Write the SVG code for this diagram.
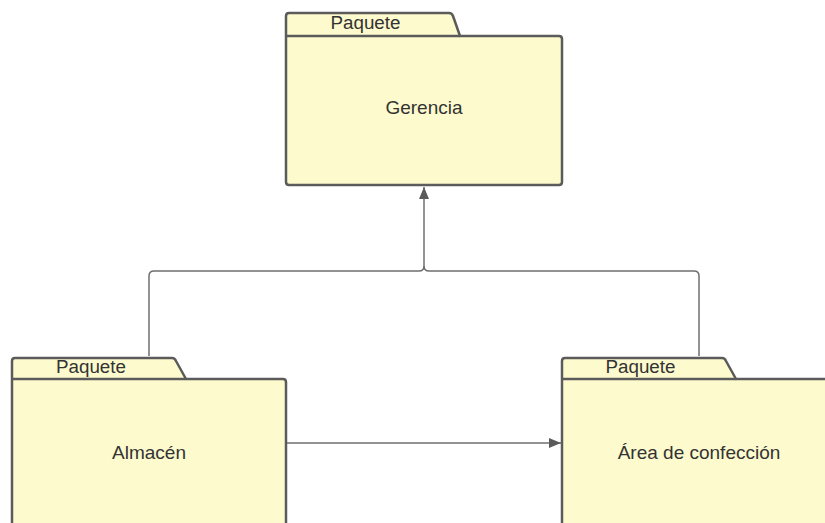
<svg xmlns="http://www.w3.org/2000/svg" width="825" height="523" viewBox="0 0 825 523">
  <style>
    .pkg { fill: #fdfacd; stroke: #5b5b5b; stroke-width: 2.5; stroke-linejoin: round; }
    .tab-line { fill: none; stroke: #5b5b5b; stroke-width: 2.5; }
    .conn { fill: none; stroke: #6f6f6f; stroke-width: 1.5; stroke-linejoin: round; }
    .lbl { font-family: "Liberation Sans", Arial, sans-serif; font-size: 19px; fill: #333333; }
    .tab { font-family: "Liberation Sans", Arial, sans-serif; font-size: 18.8px; fill: #333333; }
  </style>
  <defs>
    <marker id="arrow" viewBox="0 0 12 12" refX="12" refY="6" markerWidth="12" markerHeight="12" markerUnits="userSpaceOnUse" orient="auto">
      <path d="M0,1 L12,6 L0,11 Z" fill="#5b5b5b"/>
    </marker>
  </defs>
  <rect width="825" height="523" fill="#ffffff"/>

  <g id="connectors">
    <!-- Almacén and Área de confección feed into Gerencia -->
    <path class="conn" d="M149,356 V276 Q149,271 154,271 H419 Q424,271 424,266"/>
    <path class="conn" d="M699,356 V276 Q699,271 694,271 H429 Q424,271 424,266"/>
    <path class="conn" d="M424,266 V187" marker-end="url(#arrow)"/>
    <!-- Almacén to Área de confección -->
    <path class="conn" d="M287,443 H561" marker-end="url(#arrow)"/>
  </g>

  <g id="gerencia">
    <path class="pkg" d="M286,36 V16 Q286,13 289,13 H449 Q452,13 453,16 L460,36 H559 Q562,36 562,39 V182 Q562,185 559,185 H289 Q286,185 286,182 Z"/>
    <line class="tab-line" x1="286" y1="36" x2="460" y2="36"/>
    <text class="tab" x="330.5" y="29">Paquete</text>
    <text class="lbl" x="424" y="114" text-anchor="middle">Gerencia</text>
  </g>

  <g id="almacen">
    <path class="pkg" d="M12,530 V361 Q12,358 15,358 H172 Q175,358 176,361 L186,379 H283 Q286,379 286,382 V530 Z"/>
    <line class="tab-line" x1="12" y1="379" x2="186" y2="379"/>
    <text class="tab" x="56" y="373">Paquete</text>
    <text class="lbl" x="149" y="459" text-anchor="middle">Almacén</text>
  </g>

  <g id="area-confeccion">
    <path class="pkg" d="M562,530 V361 Q562,358 565,358 H722 Q725,358 726,361 L736,379 H835 V530 Z"/>
    <line class="tab-line" x1="562" y1="379" x2="736" y2="379"/>
    <text class="tab" x="605.5" y="373">Paquete</text>
    <text class="lbl" x="699" y="459" text-anchor="middle">Área de confección</text>
  </g>
</svg>
